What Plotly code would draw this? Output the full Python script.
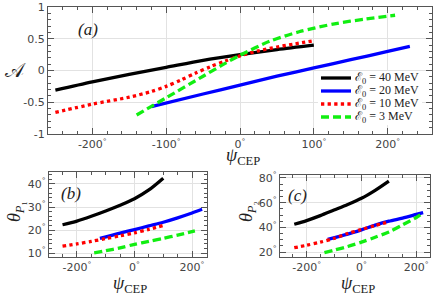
import plotly.graph_objects as go

W, H = 436, 295

# ---------------- data ----------------
labels = ["ℰ<sub>0</sub> = 40 MeV", "ℰ<sub>0</sub> = 20 MeV",
          "ℰ<sub>0</sub> = 10 MeV", "ℰ<sub>0</sub> = 3 MeV"]
colors = ["#000000", "#0000ff", "#ff0000", "#11ee11"]
dashes = ["solid", "solid", "dot", "8px,4px"]

# panel (a): asymmetry A vs psi_CEP
a40_x = [-250, -200, -150, -100, -50, 0, 50, 100]
a40_y = [-0.31, -0.18, -0.06, 0.05, 0.16, 0.25, 0.33, 0.40]
a20_x = [-120, -50, 0, 50, 100, 150, 200, 230]
a20_y = [-0.57, -0.37, -0.23, -0.09, 0.04, 0.17, 0.30, 0.38]
a10_x = [-250, -200, -150, -120, -100, -80, -60, -40, -20, 0, 25, 50, 75, 100]
a10_y = [-0.66, -0.53, -0.42, -0.33, -0.25, -0.15, -0.04, 0.06, 0.15, 0.23, 0.31, 0.37, 0.42, 0.47]
a3_x = [-140, -100, -50, -25, 0, 40, 80, 130, 170, 210]
a3_y = [-0.70, -0.43, -0.09, 0.08, 0.24, 0.46, 0.61, 0.74, 0.81, 0.87]

# panel (b): theta_P1 vs psi_CEP
b40_x = [-250, -200, -150, -100, -50, 0, 50, 100]
b40_y = [22.3, 23.9, 26.0, 28.3, 30.8, 33.6, 37.4, 42.5]
b20_x = [-120, -50, 0, 50, 100, 150, 200, 235]
b20_y = [16.4, 18.7, 20.2, 21.8, 23.4, 25.3, 27.4, 29.0]
b10_x = [-250, -200, -150, -100, -50, 0, 50, 100]
b10_y = [13.0, 14.0, 15.1, 16.3, 17.5, 18.8, 20.3, 22.0]
b3_x = [-140, -100, -50, 0, 50, 100, 150, 210]
b3_y = [10.1, 11.0, 12.3, 13.8, 15.1, 16.4, 17.8, 19.6]

# panel (c): theta_P2 vs psi_CEP
c40_x = [-245, -200, -150, -100, -50, 0, 50, 100]
c40_y = [42.5, 45.5, 49.5, 54.0, 58.5, 63.5, 70.0, 77.5]
c20_x = [-123, -50, 0, 50, 100, 150, 200, 225]
c20_y = [30.3, 34.5, 38.0, 41.8, 45.0, 47.5, 50.5, 52.0]
c10_x = [-245, -200, -150, -100, -50, 0, 50, 100]
c10_y = [23.5, 25.5, 28.0, 31.0, 35.0, 38.3, 41.5, 44.5]
c3_x = [-135, -100, -50, 0, 50, 100, 150, 200, 220]
c3_y = [19.5, 21.5, 24.5, 28.0, 32.0, 36.3, 42.0, 48.0, 51.0]

xa_ticks = [-200, -100, 0, 100, 200]
xbc_ticks = [-200, 0, 200]
ya_ticks = [-1, -0.5, 0, 0.5, 1]
ya_text = ["-1", "-0.5", "0", "0.5", "1"]
yb_ticks = [10, 20, 30, 40]
yc_ticks = [20, 40, 60, 80]


def deg(vals):
    return [f"{v}<sup>°</sup>" for v in vals]


fig = go.Figure()

panels = [
    ("x", "y", [(a40_x, a40_y), (a20_x, a20_y), (a10_x, a10_y), (a3_x, a3_y)]),
    ("x2", "y2", [(b40_x, b40_y), (b20_x, b20_y), (b10_x, b10_y), (b3_x, b3_y)]),
    ("x3", "y3", [(c40_x, c40_y), (c20_x, c20_y), (c10_x, c10_y), (c3_x, c3_y)]),
]
for xa, ya, series in panels:
    for i, (xs, ys) in enumerate(series):
        fig.add_trace(go.Scatter(
            x=xs, y=ys, xaxis=xa, yaxis=ya, mode="lines",
            line=dict(color=colors[i], width=3.3, dash=dashes[i], shape="spline",
                      smoothing=0.8),
            name=labels[i], showlegend=False))


def px_x(a, b):
    return [a / W, b / W]


def px_y(top, bot):
    return [1 - bot / H, 1 - top / H]


tickfont = dict(family="DejaVu Sans", size=11, color="#444444")
common = dict(showline=True, linecolor="#555555", linewidth=1.2, mirror="ticks",
              ticks="inside", ticklen=6, tickcolor="#555555", tickwidth=1,
              showgrid=True, gridcolor="#e2e2e2", gridwidth=1, zeroline=False,
              tickfont=tickfont, tickmode="array", automargin=False)


def minor(d):
    return dict(ticks="inside", ticklen=3, dtick=d, tick0=0, tickcolor="#555555",
                showgrid=False)


fig.update_layout(
    width=W, height=H, margin=dict(l=0, r=0, t=0, b=0),
    paper_bgcolor="white", plot_bgcolor="white",
    showlegend=False,
    xaxis=dict(domain=px_x(48, 432), range=[-260, 260], anchor="y",
               tickvals=xa_ticks, ticktext=deg(xa_ticks), minor=minor(20), **common),
    yaxis=dict(domain=px_y(7, 134), range=[-1, 1], anchor="x",
               tickvals=ya_ticks, ticktext=ya_text, minor=minor(0.1), **common),
    xaxis2=dict(domain=px_x(49, 207), range=[-297, 252], anchor="y2",
                tickvals=xbc_ticks, ticktext=deg(xbc_ticks), minor=minor(50), **common),
    yaxis2=dict(domain=px_y(172, 257), range=[8.3, 45.2], anchor="x2",
                tickvals=yb_ticks, ticktext=deg(yb_ticks), minor=minor(2), **common),
    xaxis3=dict(domain=px_x(280, 430), range=[-297, 250], anchor="y3",
                tickvals=xbc_ticks, ticktext=deg(xbc_ticks), minor=minor(50), **common),
    yaxis3=dict(domain=px_y(175, 257), range=[16, 82.4], anchor="x3",
                tickvals=yc_ticks, ticktext=deg(yc_ticks), minor=minor(5), **common),
)

# ---- custom legend inside panel (a) (white box, line samples, labels) ----
leg_left, leg_top, row_h = 318, 71, 13
fig.add_shape(type="rect", xref="paper", yref="paper", layer="above",
              x0=leg_left / W, x1=422 / W,
              y0=1 - (leg_top + 4 * row_h + 2) / H, y1=1 - leg_top / H,
              fillcolor="white", line=dict(width=0))
for i in range(4):
    yc = leg_top + 7 + i * row_h
    fig.add_shape(type="line", xref="paper", yref="paper", layer="above",
                  x0=(leg_left + 3) / W, x1=(leg_left + 33) / W,
                  y0=1 - yc / H, y1=1 - yc / H,
                  line=dict(color=colors[i], width=3.3, dash=dashes[i]))
    fig.add_annotation(x=(leg_left + 35) / W, y=1 - yc / H, xref="paper", yref="paper",
                       xanchor="left", yanchor="middle", text=labels[i], showarrow=False,
                       font=dict(family="Liberation Serif", size=12, color="#222222"))

serif = "Liberation Serif"
ann = [
    dict(x=88, y=29, text="<i>(a)</i>", size=17, angle=0),
    dict(x=71, y=193, text="<i>(b)</i>", size=17, angle=0),
    dict(x=297, y=195, text="<i>(c)</i>", size=17, angle=0),
    dict(x=243, y=156, text="<i>ψ</i><sub>CEP</sub>", size=18, angle=0),
    dict(x=130, y=284, text="<i>ψ</i><sub>CEP</sub>", size=18, angle=0),
    dict(x=358, y=284, text="<i>ψ</i><sub>CEP</sub>", size=18, angle=0),
    dict(x=15, y=70, text="𝒜", size=20, angle=0),
    dict(x=15, y=212, text="<i>θ</i><sub><i>P</i>₁</sub>", size=18, angle=-90),
    dict(x=247, y=212, text="<i>θ</i><sub><i>P</i>₂</sub>", size=18, angle=-90),
]
for a in ann:
    fig.add_annotation(x=a["x"] / W, y=1 - a["y"] / H, xref="paper", yref="paper",
                       xanchor="center", yanchor="middle", textangle=a["angle"],
                       text=a["text"], showarrow=False,
                       font=dict(family=serif, size=a["size"], color="#222222"))

fig.write_html("out.html", config={"displayModeBar": False},
               post_script="document.body.style.margin='0px';")
